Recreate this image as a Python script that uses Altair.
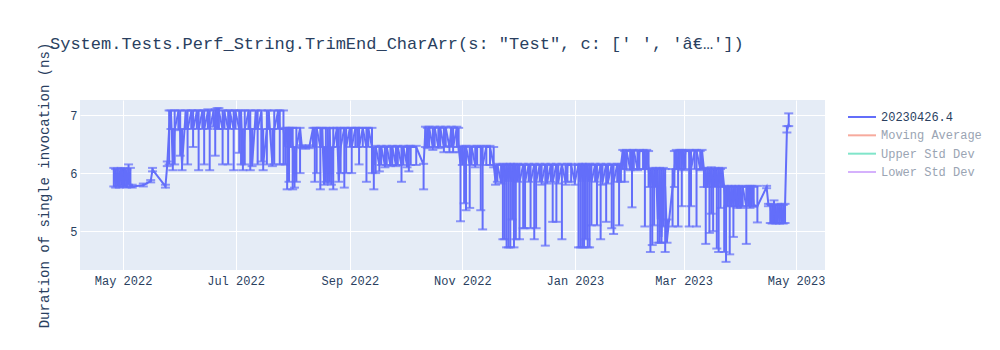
import altair as alt
import pandas as pd

# ---------------- data ----------------
dates = [
    # Apr-May 2022
    "2022-04-26", "2022-04-27", "2022-04-28", "2022-04-29", "2022-04-30", "2022-05-01", "2022-05-02", "2022-05-03",
    "2022-05-04", "2022-05-05", "2022-05-06", "2022-05-12", "2022-05-16", "2022-05-17", "2022-05-24", "2022-05-25",
    # May-Jul 2022
    "2022-05-26", "2022-05-27", "2022-05-28", "2022-05-29", "2022-05-31", "2022-06-01", "2022-06-02", "2022-06-04", "2022-06-05", "2022-06-07", "2022-06-08",
    "2022-06-10", "2022-06-11", "2022-06-13", "2022-06-14", "2022-06-16", "2022-06-17", "2022-06-19", "2022-06-20", "2022-06-21", "2022-06-22", "2022-06-24",
    "2022-06-25", "2022-06-27", "2022-06-28", "2022-06-30", "2022-07-01", "2022-07-03", "2022-07-04", "2022-07-05", "2022-07-06", "2022-07-08", "2022-07-09",
    "2022-07-10", "2022-07-12", "2022-07-13", "2022-07-15", "2022-07-16", "2022-07-18", "2022-07-19", "2022-07-21", "2022-07-22", "2022-07-24", "2022-07-25", "2022-07-27",
    # Jul-Sep 2022
    "2022-07-28", "2022-07-29", "2022-07-30", "2022-07-31", "2022-08-01", "2022-08-02", "2022-08-03", "2022-08-05", "2022-08-06", "2022-08-08", "2022-08-10",
    "2022-08-12", "2022-08-13", "2022-08-14", "2022-08-16", "2022-08-17", "2022-08-18", "2022-08-19", "2022-08-20", "2022-08-21", "2022-08-22", "2022-08-23",
    "2022-08-25", "2022-08-26", "2022-08-27", "2022-08-29", "2022-08-30", "2022-09-01", "2022-09-02", "2022-09-04", "2022-09-05", "2022-09-06", "2022-09-08", "2022-09-10", "2022-09-11", "2022-09-13",
    # Sep-Oct 2022
    "2022-09-14", "2022-09-15", "2022-09-17", "2022-09-18", "2022-09-20", "2022-09-21", "2022-09-23", "2022-09-24", "2022-09-26", "2022-09-27", "2022-09-29", "2022-09-30", "2022-10-02", "2022-10-03", "2022-10-04", "2022-10-07", "2022-10-11",
    # Oct 2022
    "2022-10-12", "2022-10-13", "2022-10-14", "2022-10-16", "2022-10-17", "2022-10-19", "2022-10-20", "2022-10-22", "2022-10-23", "2022-10-25", "2022-10-26", "2022-10-27", "2022-10-29", "2022-10-30",
    # Nov 2022
    "2022-10-31", "2022-11-01", "2022-11-02", "2022-11-03", "2022-11-05", "2022-11-06", "2022-11-08", "2022-11-09", "2022-11-11", "2022-11-12", "2022-11-14", "2022-11-16", "2022-11-18",
    # Nov 2022 - Jan 2023
    "2022-11-19", "2022-11-20", "2022-11-22", "2022-11-23", "2022-11-24", "2022-11-25", "2022-11-26", "2022-11-27", "2022-11-28", "2022-11-29", "2022-11-30", "2022-12-01", "2022-12-02",
    "2022-12-04", "2022-12-05", "2022-12-07", "2022-12-08", "2022-12-10", "2022-12-11", "2022-12-13", "2022-12-14", "2022-12-16", "2022-12-17", "2022-12-19", "2022-12-20", "2022-12-22",
    "2022-12-23", "2022-12-25", "2022-12-27", "2022-12-28", "2022-12-30", "2023-01-01", "2023-01-03", "2023-01-04", "2023-01-05", "2023-01-06", "2023-01-07", "2023-01-08", "2023-01-09", "2023-01-10",
    "2023-01-12", "2023-01-13", "2023-01-15", "2023-01-16", "2023-01-18", "2023-01-19", "2023-01-21", "2023-01-22", "2023-01-24", "2023-01-25", "2023-01-26",
    # Jan-Feb 2023
    "2023-01-27", "2023-01-28", "2023-01-29", "2023-01-31", "2023-02-01", "2023-02-02", "2023-02-04", "2023-02-05", "2023-02-07", "2023-02-08", "2023-02-09",
    "2023-02-10", "2023-02-11", "2023-02-12", "2023-02-13", "2023-02-14", "2023-02-15", "2023-02-16", "2023-02-17", "2023-02-18", "2023-02-19", "2023-02-20", "2023-02-23", "2023-02-24",
    # Feb-Mar 2023
    "2023-02-25", "2023-02-26", "2023-02-27", "2023-02-28", "2023-03-01", "2023-03-02", "2023-03-04", "2023-03-05", "2023-03-07", "2023-03-08", "2023-03-10", "2023-03-11",
    "2023-03-12", "2023-03-13", "2023-03-14", "2023-03-15", "2023-03-16", "2023-03-17", "2023-03-18", "2023-03-19", "2023-03-20", "2023-03-21", "2023-03-22",
    # Mar-Apr 2023
    "2023-03-23", "2023-03-24", "2023-03-25", "2023-03-26", "2023-03-27", "2023-03-28", "2023-03-29", "2023-03-30", "2023-03-31", "2023-04-01", "2023-04-02", "2023-04-04", "2023-04-05", "2023-04-06", "2023-04-07", "2023-04-08", "2023-04-10", "2023-04-15", "2023-04-16",
    "2023-04-17", "2023-04-18", "2023-04-19", "2023-04-20", "2023-04-21", "2023-04-22", "2023-04-23", "2023-04-24", "2023-04-25", "2023-04-26", "2023-04-27",
]

values = [
    6.05, 5.78, 6.06, 5.77, 6.07, 5.78, 6.05, 5.78, 6.08, 5.78, 5.77, 5.79, 5.86, 6.06, 5.77, 6.15,
    6.76, 7.05, 6.15, 6.76, 7.05, 6.76, 6.15, 7.05, 6.76, 7.05, 6.76,
    7.05, 6.76, 7.06, 6.76, 7.05, 6.76, 7.05, 6.76, 7.08, 7.06, 6.76,
    7.05, 6.76, 7.05, 6.76, 7.05, 6.76, 7.05, 6.15, 6.76, 7.05, 6.76,
    6.15, 7.05, 6.76, 7.05, 6.15, 6.76, 7.05, 6.15, 6.76, 7.05, 6.76, 6.76,
    6.45, 6.77, 6.45, 6.77, 6.45, 5.85, 6.45, 6.77, 6.45, 6.45, 6.45,
    6.77, 6.45, 6.77, 6.45, 6.77, 5.85, 6.45, 5.85, 6.77, 5.85, 6.45,
    6.77, 5.88, 6.45, 6.77, 6.45, 6.77, 6.45, 6.77, 6.77, 6.45, 6.77, 6.45, 6.77, 6.45,
    6.14, 6.45, 6.14, 6.45, 6.14, 6.45, 6.14, 6.45, 6.14, 6.45, 6.14, 6.45, 6.14, 6.45, 6.45, 6.45, 6.14,
    6.78, 6.45, 6.78, 6.45, 6.78, 6.45, 6.78, 6.45, 6.78, 6.45, 6.78, 6.45, 6.78, 6.45,
    6.14, 6.45, 6.14, 6.45, 6.14, 6.45, 6.14, 6.45, 6.45, 6.14, 6.45, 6.45, 6.14,
    5.85, 6.14, 5.85, 6.14, 5.85, 6.14, 5.85, 6.14, 5.85, 6.14, 5.85, 6.14, 5.85,
    6.14, 5.85, 6.14, 5.85, 6.14, 5.85, 6.14, 5.85, 6.14, 5.85, 6.14, 5.85, 6.14,
    5.85, 6.14, 5.85, 6.14, 6.14, 5.85, 6.14, 5.85, 6.14, 5.85, 6.14, 5.85, 6.14, 5.85,
    6.14, 5.85, 6.14, 5.85, 6.14, 5.85, 6.14, 5.85, 6.14, 5.85, 6.14,
    6.38, 6.07, 6.38, 6.07, 6.38, 6.38, 6.07, 6.38, 6.38, 6.07, 6.38,
    6.07, 5.76, 6.07, 5.76, 6.07, 5.20, 6.07, 4.90, 6.07, 5.76, 4.85, 5.76, 6.07,
    6.38, 6.07, 6.38, 6.38, 6.07, 6.38, 6.38, 6.07, 6.38, 6.38, 6.07, 6.38,
    6.07, 5.76, 6.07, 5.76, 6.07, 5.76, 6.07, 5.76, 6.07, 5.76, 6.07,
    5.76, 5.43, 5.76, 5.43, 5.76, 5.43, 5.76, 5.43, 5.76, 5.43, 5.76, 5.43, 5.76, 5.43, 5.76, 5.45, 5.43, 5.76, 5.45,
    5.45, 5.15, 5.45, 5.15, 5.45, 5.15, 5.45, 5.15, 5.45, 6.72, 6.85,
]

lower = [
    5.77, 5.75, 5.78, 5.75, 5.79, 5.76, 5.77, 5.75, 5.80, 5.76, 5.75, 5.77, 5.84, 6.03, 5.75, 6.12,
    6.15, 6.76, 6.05, 6.15, 6.74, 6.30, 6.05, 6.76, 6.15, 6.76, 6.45,
    6.76, 6.05, 6.76, 6.15, 6.76, 6.05, 6.80, 6.30, 6.76, 6.76, 6.15,
    6.76, 6.15, 6.76, 6.05, 6.76, 6.35, 6.15, 6.05, 6.15, 6.76, 6.05,
    6.12, 6.76, 6.15, 6.20, 6.05, 6.15, 6.76, 6.12, 6.15, 6.76, 6.15, 6.15,
    6.15, 5.72, 5.85, 6.45, 5.72, 5.75, 5.85, 6.00, 6.43, 6.42, 6.43,
    6.45, 5.85, 6.00, 5.72, 6.45, 5.80, 5.85, 5.82, 5.85, 5.80, 5.72,
    6.45, 5.85, 6.00, 5.75, 6.00, 6.45, 6.00, 6.45, 6.45, 6.15, 6.45, 5.85, 6.45, 6.00,
    5.72, 6.00, 6.03, 6.14, 6.10, 6.14, 6.12, 6.14, 6.12, 6.14, 5.85, 6.14, 6.10, 6.03, 6.14, 6.14, 5.72,
    6.45, 6.43, 6.45, 6.40, 6.45, 6.43, 6.45, 6.36, 6.45, 6.36, 6.45, 6.36, 6.45, 6.36,
    5.17, 6.14, 5.48, 5.36, 5.40, 6.14, 6.10, 6.14, 5.36, 5.03, 6.14, 6.14, 6.10,
    5.80, 5.85, 5.82, 4.86, 4.86, 4.72, 4.72, 4.72, 5.20, 4.72, 4.86, 5.85, 4.86,
    5.05, 5.05, 5.85, 5.05, 4.86, 5.05, 5.85, 5.80, 4.75, 5.82, 5.85, 5.16, 5.16,
    5.82, 4.86, 5.80, 5.85, 5.85, 5.80, 4.72, 4.72, 4.72, 4.72, 4.86, 4.72, 4.72, 5.10,
    5.85, 5.10, 4.86, 5.80, 5.16, 5.82, 5.05, 4.95, 5.85, 5.10, 5.85,
    6.07, 5.85, 6.07, 6.05, 5.41, 6.07, 6.05, 6.07, 6.07, 5.08, 6.07,
    5.76, 4.64, 4.76, 5.10, 5.76, 4.80, 4.80, 4.80, 5.08, 4.64, 4.80, 5.08, 5.76,
    6.07, 5.08, 6.07, 5.43, 6.05, 6.07, 5.08, 5.43, 6.07, 5.08, 6.05, 6.07,
    5.76, 4.78, 5.76, 4.97, 5.30, 5.00, 5.76, 4.70, 4.64, 5.40, 5.76,
    4.64, 4.47, 5.43, 4.60, 5.43, 4.90, 5.43, 5.40, 5.43, 5.40, 5.43, 4.78, 5.43, 5.40, 5.43, 5.42, 5.15, 5.74, 5.43,
    5.14, 5.13, 5.14, 5.13, 5.14, 5.13, 5.14, 5.13, 5.14, 6.70, 6.81,
]

upper = [
    6.09, 6.07, 6.08, 6.05, 6.09, 6.08, 6.08, 6.06, 6.15, 6.09, 5.80, 5.82, 5.88, 6.09, 5.80, 6.20,
    7.08, 7.08, 6.76, 7.08, 7.08, 7.08, 6.76, 7.08, 7.08, 7.08, 7.08,
    7.08, 7.08, 7.08, 7.08, 7.10, 7.08, 7.08, 7.10, 7.12, 7.12, 7.08,
    7.08, 7.08, 7.08, 7.08, 7.08, 7.08, 7.08, 6.76, 7.08, 7.08, 7.08,
    6.76, 7.08, 7.08, 7.08, 6.76, 7.08, 7.08, 6.76, 7.08, 7.08, 7.08, 7.08,
    6.78, 6.78, 6.78, 6.78, 6.78, 6.45, 6.78, 6.78, 6.48, 6.47, 6.48,
    6.78, 6.78, 6.78, 6.78, 6.78, 6.45, 6.78, 6.77, 6.78, 6.45, 6.78,
    6.78, 6.77, 6.78, 6.78, 6.78, 6.78, 6.78, 6.78, 6.78, 6.78, 6.78, 6.78, 6.78, 6.78,
    6.45, 6.47, 6.45, 6.47, 6.45, 6.47, 6.45, 6.47, 6.46, 6.47, 6.45, 6.47, 6.45, 6.47, 6.47, 6.47, 6.16,
    6.80, 6.78, 6.80, 6.78, 6.80, 6.78, 6.80, 6.78, 6.80, 6.47, 6.80, 6.78, 6.80, 6.78,
    6.45, 6.47, 6.45, 6.47, 6.45, 6.47, 6.45, 6.47, 6.47, 6.45, 6.47, 6.47, 6.45,
    6.14, 6.16, 6.14, 6.16, 6.14, 6.16, 6.14, 6.16, 6.14, 6.16, 6.14, 6.16, 6.14,
    6.16, 6.14, 6.16, 6.14, 6.16, 6.14, 6.16, 6.14, 6.16, 6.14, 6.16, 6.14, 6.16,
    6.14, 6.16, 6.14, 6.16, 6.16, 6.14, 6.16, 6.14, 6.16, 6.14, 6.16, 6.14, 6.16, 6.14,
    6.16, 6.14, 6.16, 6.14, 6.16, 6.14, 6.16, 6.14, 6.16, 6.14, 6.16,
    6.40, 6.38, 6.40, 6.38, 6.40, 6.40, 6.38, 6.40, 6.40, 6.38, 6.40,
    6.38, 6.07, 6.09, 6.07, 6.09, 6.07, 6.09, 6.07, 6.09, 6.07, 5.20, 6.07, 6.38,
    6.40, 6.38, 6.40, 6.40, 6.38, 6.40, 6.40, 6.38, 6.40, 6.40, 6.38, 6.40,
    6.09, 6.07, 6.09, 6.07, 6.10, 6.07, 6.09, 6.07, 6.09, 6.07, 6.09,
    5.78, 5.76, 5.78, 5.76, 5.78, 5.76, 5.78, 5.76, 5.78, 5.76, 5.78, 5.76, 5.78, 5.78, 5.78, 5.76, 5.78, 5.78, 5.47,
    5.47, 5.45, 5.53, 5.45, 5.47, 5.45, 5.47, 5.45, 5.47, 6.81, 7.03,
]

assert len(dates) == len(values) == len(lower) == len(upper), (len(dates), len(values), len(lower), len(upper))

title_text = "System.Tests.Perf_String.TrimEnd_CharArr(s: \"Test\", c: [' ', 'â€…'])"
y_title = "Duration of single invocation (ns)"

legend_names = ["20230426.4", "Moving Average", "Upper Std Dev", "Lower Std Dev"]
legend_swatch = ["#636efa", "#f7aa9d", "#80e5ca", "#d5b1fc"]
legend_text = ["#2a3f5f", "#9aa4b3", "#9aa4b3", "#9aa4b3"]

x_tick_dates = [(2022, 5), (2022, 7), (2022, 9), (2022, 11), (2023, 1), (2023, 3), (2023, 5)]
y_ticks = [5, 6, 7]
y_domain = [4.33, 7.26]
x_domain = [(2022, 4, 7, 16), (2023, 5, 16, 16)]

# ---------------- chart ----------------
FONT = "Liberation Mono"
TXT = "#2a3f5f"
LINE = "#636efa"

df = pd.DataFrame({"date": dates, "value": values, "lower": lower, "upper": upper})
leg = pd.DataFrame({"name": legend_names, "swatch": legend_swatch, "tcolor": legend_text})

x_enc = alt.X(
    "date:T",
    title=None,
    scale=alt.Scale(
        type="utc",
        domain=[alt.DateTime(year=y, month=m, date=d, hours=h, utc=True) for (y, m, d, h) in x_domain],
    ),
    axis=alt.Axis(
        values=[alt.DateTime(year=y, month=m, date=1, utc=True) for (y, m) in x_tick_dates],
        format="%b %Y",
        labelPadding=5,
    ),
)

y_axis = alt.Axis(
    values=y_ticks,
    title=y_title,
    titleX=-32,
    titleY=85,
    titleAngle=-90,
    titleAlign="center",
    titleBaseline="alphabetic",
    titleFont=FONT,
    titleFontSize=14,
    titleFontWeight="normal",
    titleColor=TXT,
    labelPadding=3,
)
y_scale = alt.Scale(domain=y_domain, nice=False, zero=False)

base = alt.Chart(df)
bars = base.mark_rule(color=LINE, strokeWidth=2).encode(
    x=x_enc,
    y=alt.Y("lower:Q", scale=y_scale, axis=y_axis, title=y_title),
    y2="upper:Q",
)
cap_lo = base.mark_tick(color=LINE, orient="horizontal", size=9, thickness=2).encode(
    x=x_enc, y=alt.Y("lower:Q", scale=y_scale, axis=y_axis, title=y_title)
)
cap_hi = base.mark_tick(color=LINE, orient="horizontal", size=9, thickness=2).encode(
    x=x_enc, y=alt.Y("upper:Q", scale=y_scale, axis=y_axis, title=y_title)
)
line = base.mark_line(color=LINE, strokeWidth=2).encode(
    x=x_enc, y=alt.Y("value:Q", scale=y_scale, axis=y_axis, title=y_title)
)
main = alt.layer(bars, cap_lo, cap_hi, line)

leg_y = alt.Y(
    "name:N",
    scale=alt.Scale(type="point", domain=legend_names, range=[17, 72], padding=0),
    axis=None,
)
leg_rule = alt.Chart(leg).mark_rule(strokeWidth=2).encode(
    x=alt.value(768), x2=alt.value(796), y=leg_y, color=alt.Color("swatch:N", scale=None)
)
leg_text = alt.Chart(leg).mark_text(align="left", baseline="middle", font=FONT, fontSize=12).encode(
    x=alt.value(801), y=leg_y, text="name:N", color=alt.Color("tcolor:N", scale=None)
)
legend = alt.layer(leg_rule, leg_text)

chart = (
    alt.layer(main, legend)
    .resolve_scale(y="independent", color="independent")
    .properties(
        width=745,
        height=170,
        autosize=alt.AutoSizeParams(type="none"),
        padding={"left": 80, "top": 100, "right": 175, "bottom": 80},
        title=alt.Title(
            title_text,
            anchor="start",
            frame="group",
            baseline="alphabetic",
            offset=0,
            dx=-30,
            dy=24,
            font=FONT,
            fontSize=17,
            fontWeight="normal",
            color=TXT,
        ),
    )
    .configure(background="white")
    .configure_view(fill="#E5ECF6", stroke=None)
    .configure_axis(
        grid=True,
        gridColor="white",
        gridWidth=1,
        domain=False,
        ticks=False,
        labelFont=FONT,
        labelFontSize=12,
        labelColor=TXT,
    )
)

chart.save("out.html", embed_options={"renderer": "svg", "actions": False})
